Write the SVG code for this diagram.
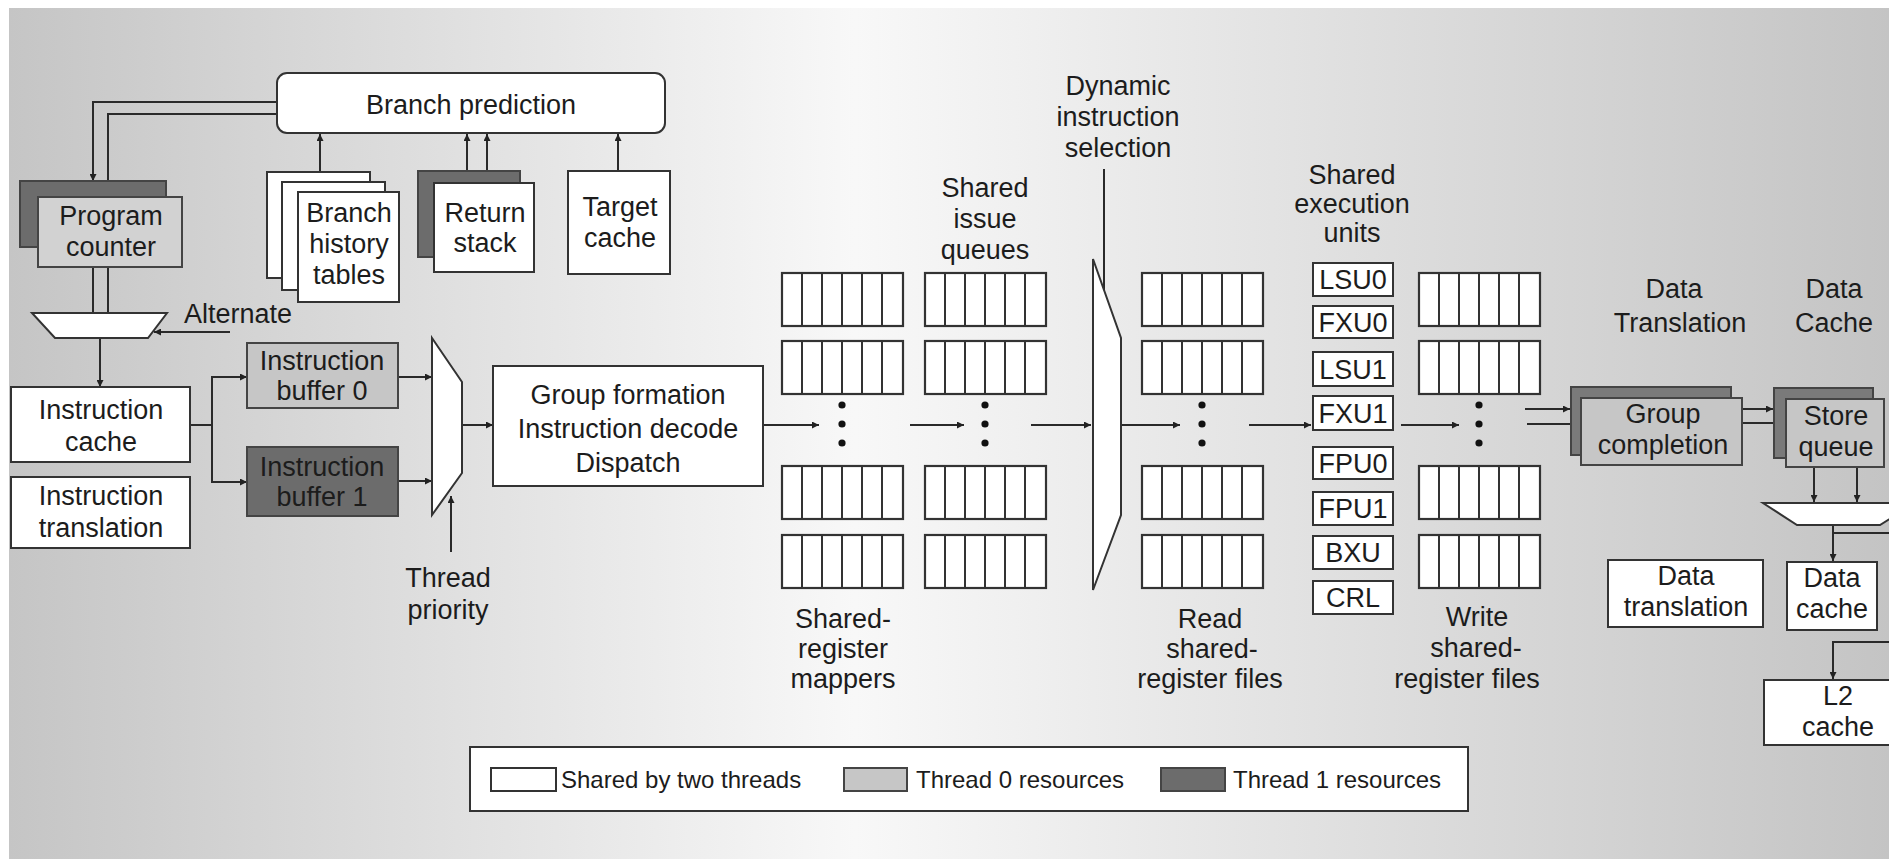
<svg xmlns="http://www.w3.org/2000/svg" width="1889" height="865" viewBox="0 0 1889 865">
<defs>
<linearGradient id="bg" x1="0" y1="0" x2="1" y2="0">
<stop offset="0" stop-color="#c5c5c5"/>
<stop offset="0.45" stop-color="#f8f8f8"/>
<stop offset="1" stop-color="#c4c4c4"/>
</linearGradient>
<marker id="ah" viewBox="0 0 10 10" refX="10" refY="5" markerWidth="10" markerHeight="7" markerUnits="userSpaceOnUse" orient="auto">
<path d="M0,0 L10,5 L0,10 z" fill="#222"/>
</marker>
<g id="rf">
<rect x="0" y="0" width="121" height="53" fill="#fff" stroke="#333" stroke-width="2.2"/>
<path d="M20,0V53M40,0V53M60,0V53M80,0V53M100,0V53" stroke="#333" stroke-width="2"/>
</g>
<g id="dots">
<circle cx="0" cy="405" r="3.6" fill="#111"/>
<circle cx="0" cy="424" r="3.6" fill="#111"/>
<circle cx="0" cy="443" r="3.6" fill="#111"/>
</g>
</defs>
<style>
text{font-family:"Liberation Sans",Arial,Helvetica,sans-serif;font-size:27px;fill:#1c1c1c}
.c{text-anchor:middle}
.lg{font-size:24px}
.w{fill:#fff;stroke:#333;stroke-width:2}
.g0{fill:#c6c6c6;stroke:#444;stroke-width:2}
.g1{fill:#6c6c6c;stroke:#444;stroke-width:2}
.ln{fill:none;stroke:#2a2a2a;stroke-width:2}
.ar{fill:none;stroke:#2a2a2a;stroke-width:2;marker-end:url(#ah)}
</style>
<rect x="0" y="0" width="1889" height="865" fill="#fff"/>
<rect x="9" y="8" width="1880" height="851" fill="url(#bg)"/>

<g id="connectors">
<polyline class="ar" points="277,102 93,102 93,181"/>
<polyline class="ar" points="277,114 108,114 108,197"/>
<line class="ar" x1="320" y1="172" x2="320" y2="134"/>
<line class="ar" x1="467" y1="171" x2="467" y2="134"/>
<line class="ar" x1="487" y1="183" x2="487" y2="134"/>
<line class="ar" x1="618" y1="171" x2="618" y2="134"/>
<line class="ln" x1="93" y1="267" x2="93" y2="313"/>
<line class="ln" x1="108" y1="267" x2="108" y2="313"/>
<line class="ar" x1="230" y1="332" x2="154" y2="332"/>
<line class="ar" x1="100" y1="338" x2="100" y2="387"/>
<polyline class="ln" points="190,425 212,425"/>
<polyline class="ar" points="212,425 212,377 247,377"/>
<polyline class="ar" points="212,425 212,482 247,482"/>
<line class="ar" x1="398" y1="377" x2="432" y2="377"/>
<line class="ar" x1="398" y1="481" x2="432" y2="481"/>
<line class="ar" x1="451" y1="552" x2="451" y2="496"/>
<line class="ar" x1="462" y1="425" x2="493" y2="425"/>
<line class="ar" x1="763" y1="425" x2="819" y2="425"/>
<line class="ar" x1="910" y1="425" x2="964" y2="425"/>
<line class="ar" x1="1031" y1="425" x2="1091" y2="425"/>
<line class="ar" x1="1121" y1="425" x2="1180" y2="425"/>
<line class="ar" x1="1249" y1="425" x2="1311" y2="425"/>
<line class="ar" x1="1401" y1="425" x2="1459" y2="425"/>
<line class="ln" x1="1104" y1="169" x2="1104" y2="292"/>
<line class="ar" x1="1525" y1="409" x2="1570" y2="409"/>
<line class="ar" x1="1527" y1="424" x2="1580" y2="424"/>
<line class="ar" x1="1742" y1="409" x2="1773" y2="409"/>
<line class="ar" x1="1742" y1="423" x2="1785" y2="423"/>
<line class="ar" x1="1814" y1="468" x2="1814" y2="502"/>
<line class="ar" x1="1857" y1="468" x2="1857" y2="502"/>
<line class="ar" x1="1833" y1="525" x2="1833" y2="561"/>
<line class="ln" x1="1833" y1="533" x2="1889" y2="533"/>
<polyline class="ar" points="1889,642 1833,642 1833,679"/>
</g>

<g id="branch-prediction">
<rect class="w" x="277" y="73" width="388" height="60" rx="10"/>
<text class="c" x="471" y="114">Branch prediction</text>
</g>
<g id="program-counter">
<rect class="g1" x="20" y="181" width="146" height="66"/>
<rect class="g0" x="38" y="197" width="144" height="70" style="fill:#d2d2d2"/>
<text class="c" x="111" y="225">Program<tspan x="111" dy="31">counter</tspan></text>
</g>
<g id="branch-history-tables">
<rect class="w" x="267" y="172" width="103" height="106"/>
<rect class="w" x="282" y="182" width="103" height="108"/>
<rect class="w" x="298" y="192" width="101" height="110"/>
<text class="c" x="349" y="222">Branch<tspan x="349" dy="31">history</tspan><tspan x="349" dy="31">tables</tspan></text>
</g>
<g id="return-stack">
<rect class="g1" x="418" y="171" width="102" height="86"/>
<rect class="w" x="434" y="183" width="100" height="89"/>
<text class="c" x="485" y="222">Return<tspan x="485" dy="30">stack</tspan></text>
</g>
<g id="target-cache">
<rect class="w" x="568" y="171" width="102" height="103"/>
<text class="c" x="620" y="216">Target<tspan x="620" dy="31">cache</tspan></text>
</g>
<g id="pc-mux">
<polygon class="w" points="32,313 167,313 148,338 55,338"/>
<text x="184" y="323">Alternate</text>
</g>
<g id="instruction-cache">
<rect class="w" x="11" y="387" width="179" height="75"/>
<text class="c" x="101" y="419">Instruction<tspan x="101" dy="32">cache</tspan></text>
</g>
<g id="instruction-translation">
<rect class="w" x="11" y="477" width="179" height="71"/>
<text class="c" x="101" y="505">Instruction<tspan x="101" dy="32">translation</tspan></text>
</g>
<g id="instruction-buffer-0">
<rect class="g0" x="247" y="343" width="151" height="65"/>
<text class="c" x="322" y="370">Instruction<tspan x="322" dy="30">buffer 0</tspan></text>
</g>
<g id="instruction-buffer-1">
<rect class="g1" x="247" y="447" width="151" height="69"/>
<text class="c" x="322" y="476">Instruction<tspan x="322" dy="30">buffer 1</tspan></text>
</g>
<g id="thread-priority-mux">
<polygon class="w" points="432,338 462,382 462,473 432,515"/>
<text class="c" x="448" y="587">Thread<tspan x="448" dy="32">priority</tspan></text>
</g>
<g id="group-formation">
<rect class="w" x="493" y="366" width="270" height="120"/>
<text class="c" x="628" y="404">Group formation<tspan x="628" dy="34">Instruction decode</tspan><tspan x="628" dy="34">Dispatch</tspan></text>
</g>
<g id="shared-register-mappers">
<use href="#rf" x="782" y="273"/>
<use href="#rf" x="782" y="341"/>
<use href="#rf" x="782" y="466"/>
<use href="#rf" x="782" y="535"/>
<use href="#dots" x="842" y="0"/>
<text class="c" x="843" y="628">Shared-<tspan x="843" dy="30">register</tspan><tspan x="843" dy="30">mappers</tspan></text>
</g>
<g id="shared-issue-queues">
<use href="#rf" x="925" y="273"/>
<use href="#rf" x="925" y="341"/>
<use href="#rf" x="925" y="466"/>
<use href="#rf" x="925" y="535"/>
<use href="#dots" x="985" y="0"/>
<text class="c" x="985" y="197">Shared<tspan x="985" dy="31">issue</tspan><tspan x="985" dy="31">queues</tspan></text>
</g>
<g id="dynamic-instruction-selection">
<polygon class="w" points="1093,259 1121,338 1121,515 1093,590"/>
<text class="c" x="1118" y="95">Dynamic<tspan x="1118" dy="31">instruction</tspan><tspan x="1118" dy="31">selection</tspan></text>
</g>
<g id="read-shared-register-files">
<use href="#rf" x="1142" y="273"/>
<use href="#rf" x="1142" y="341"/>
<use href="#rf" x="1142" y="466"/>
<use href="#rf" x="1142" y="535"/>
<use href="#dots" x="1202" y="0"/>
<text class="c" x="1210" y="628">Read<tspan x="1212" dy="30">shared-</tspan><tspan x="1210" dy="30">register files</tspan></text>
</g>
<g id="shared-execution-units">
<text class="c" x="1352" y="184">Shared<tspan x="1352" dy="29">execution</tspan><tspan x="1352" dy="29">units</tspan></text>
<rect class="w" x="1313" y="263" width="80" height="33"/><text class="c" x="1353" y="289">LSU0</text>
<rect class="w" x="1313" y="306" width="80" height="32"/><text class="c" x="1353" y="332">FXU0</text>
<rect class="w" x="1313" y="352" width="80" height="34"/><text class="c" x="1353" y="379">LSU1</text>
<rect class="w" x="1313" y="396" width="80" height="34"/><text class="c" x="1353" y="423">FXU1</text>
<rect class="w" x="1313" y="447" width="80" height="32"/><text class="c" x="1353" y="473">FPU0</text>
<rect class="w" x="1313" y="492" width="80" height="33"/><text class="c" x="1353" y="518">FPU1</text>
<rect class="w" x="1313" y="536" width="80" height="33"/><text class="c" x="1353" y="562">BXU</text>
<rect class="w" x="1313" y="581" width="80" height="33"/><text class="c" x="1353" y="607">CRL</text>
</g>
<g id="write-shared-register-files">
<use href="#rf" x="1419" y="273"/>
<use href="#rf" x="1419" y="341"/>
<use href="#rf" x="1419" y="466"/>
<use href="#rf" x="1419" y="535"/>
<use href="#dots" x="1479" y="0"/>
<text class="c" x="1477" y="626">Write<tspan x="1476" dy="31">shared-</tspan><tspan x="1467" dy="31">register files</tspan></text>
</g>
<g id="group-completion">
<text class="c" x="1674" y="298">Data<tspan x="1680" dy="34">Translation</tspan></text>
<rect class="g1" x="1571" y="387" width="160" height="68" style="fill:#7a7a7a"/>
<rect class="g0" x="1581" y="398" width="161" height="67"/>
<text class="c" x="1663" y="423">Group<tspan x="1663" dy="31">completion</tspan></text>
</g>
<g id="store-queue">
<text class="c" x="1834" y="298">Data<tspan x="1834" dy="34">Cache</tspan></text>
<rect class="g1" x="1774" y="388" width="99" height="70" style="fill:#7a7a7a"/>
<rect class="g0" x="1786" y="399" width="98" height="68"/>
<text class="c" x="1836" y="425">Store<tspan x="1836" dy="31">queue</tspan></text>
</g>
<g id="data-cache-mux">
<polygon class="w" points="1763,503 1915,503 1880,525 1797,525"/>
</g>
<g id="data-translation">
<rect class="w" x="1608" y="560" width="155" height="67"/>
<text class="c" x="1686" y="585">Data<tspan x="1686" dy="31">translation</tspan></text>
</g>
<g id="data-cache">
<rect class="w" x="1787" y="562" width="90" height="68"/>
<text class="c" x="1832" y="587">Data<tspan x="1832" dy="31">cache</tspan></text>
</g>
<g id="l2-cache">
<rect class="w" x="1764" y="680" width="140" height="65"/>
<text class="c" x="1838" y="705">L2<tspan x="1838" dy="31">cache</tspan></text>
</g>
<g id="legend">
<rect x="470" y="747" width="998" height="64" fill="#fff" stroke="#333" stroke-width="2"/>
<rect class="w" x="491" y="768" width="65" height="23"/>
<text class="lg" x="561" y="788">Shared by two threads</text>
<rect class="g0" x="844" y="768" width="63" height="23"/>
<text class="lg" x="916" y="788">Thread 0 resources</text>
<rect class="g1" x="1161" y="768" width="64" height="23"/>
<text class="lg" x="1233" y="788">Thread 1 resources</text>
</g>
</svg>
